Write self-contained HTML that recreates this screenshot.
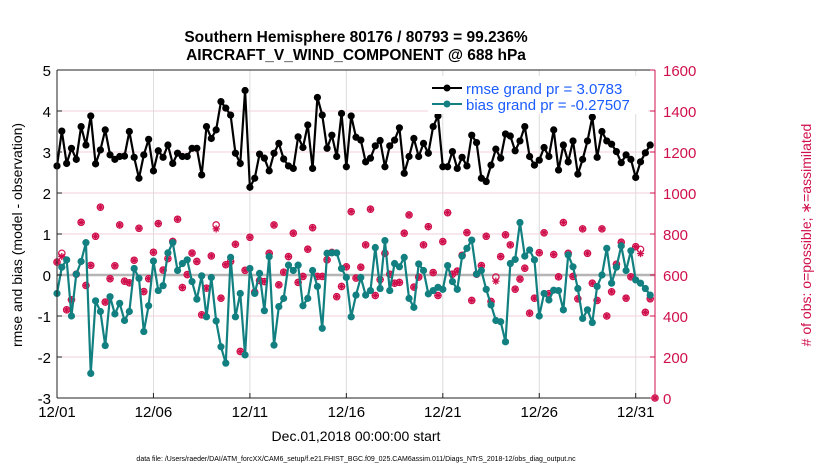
<!DOCTYPE html>
<html><head><meta charset="utf-8"><style>
body{margin:0;background:#fff;font-family:"Liberation Sans",sans-serif}
svg text{font-family:"Liberation Sans",sans-serif}
</style></head><body>
<svg id="c" width="830" height="470" xmlns="http://www.w3.org/2000/svg">
<rect width="830" height="470" fill="#fff"/>
<text x="356" y="42" text-anchor="middle" font-size="15.5" font-weight="bold">Southern Hemisphere 80176 / 80793 = 99.236%</text>
<text x="356" y="60" text-anchor="middle" font-size="15.5" font-weight="bold">AIRCRAFT_V_WIND_COMPONENT @ 688 hPa</text>
<g id="grid"></g><g id="marks"></g><g id="axes"></g>
<text transform="translate(22,235) rotate(-90)" text-anchor="middle" font-size="14">rmse and bias (model - observation)</text>
<text transform="translate(811,235) rotate(-90)" text-anchor="middle" font-size="14" fill="#d0104c"># of obs: o=possible; ∗=assimilated</text>
<text x="356" y="441" text-anchor="middle" font-size="14">Dec.01,2018 00:00:00 start</text>
<text x="356" y="461" text-anchor="middle" font-size="7">data file: /Users/raeder/DAI/ATM_forcXX/CAM6_setup/f.e21.FHIST_BGC.f09_025.CAM6assim.011/Diags_NTrS_2018-12/obs_diag_output.nc</text>
<g>
<rect x="428" y="76" width="220" height="38" fill="#fff"/>
<line x1="432" y1="88" x2="462" y2="88" stroke="#000" stroke-width="2"/><circle cx="447" cy="88" r="3.5" fill="#000"/>
<text x="466" y="94" font-size="15" fill="#1a5cff">rmse grand pr = 3.0783</text>
<line x1="432" y1="104" x2="462" y2="104" stroke="#128080" stroke-width="2"/><circle cx="447" cy="104" r="3.5" fill="#128080"/>
<text x="466" y="110" font-size="15" fill="#1a5cff">bias grand pr = -0.27507</text>
</g>
</svg>
<script>
const xTickLabels=["12/01","12/06","12/11","12/16","12/21","12/26","12/31"];
const xTickDays=[0,5,10,15,20,25,30];
const leftTicks=[-3,-2,-1,0,1,2,3,4,5];
const rightTicks=[0,200,400,600,800,1000,1200,1400,1600];
const rmse=[2.66,3.51,2.72,3.09,2.82,3.62,3.17,3.88,2.71,3.05,3.54,2.93,2.82,2.89,2.90,3.50,2.87,2.36,2.93,3.31,2.54,3.03,2.87,3.17,2.72,2.97,2.89,2.89,3.09,3.09,2.44,3.62,3.33,3.54,4.23,4.07,3.90,2.97,2.72,4.50,2.14,2.36,2.95,2.85,2.54,2.97,3.21,2.83,2.66,2.60,3.37,3.11,3.66,2.60,4.33,3.90,3.09,3.41,2.89,3.94,2.64,3.88,3.36,3.29,2.76,2.85,3.15,3.28,2.64,3.15,3.29,3.59,2.48,2.89,3.33,2.89,3.21,2.97,3.62,3.88,2.64,2.64,3.01,2.60,2.87,2.66,3.41,3.23,2.36,2.28,2.68,3.07,2.85,3.44,3.39,3.03,3.27,3.62,2.89,2.68,2.80,3.11,2.89,3.54,2.56,3.17,2.76,3.27,2.46,2.82,3.27,3.85,2.87,3.50,3.27,3.19,3.01,2.74,2.93,2.82,2.38,2.76,2.98,3.17];
const bias=[-0.45,0.19,0.37,-1.00,0.02,0.33,0.79,-2.40,-0.63,-0.89,-1.72,-0.53,-0.95,-0.69,-1.11,-0.89,0.16,-0.08,-1.38,-0.75,0.34,-0.38,-0.26,0.54,0.79,0.11,0.28,0.37,-0.16,-0.59,-0.02,-1.02,-0.06,-1.12,-1.75,-2.15,0.43,-1.02,-0.45,-1.95,0.16,-0.45,0.04,-0.87,0.45,-1.71,-0.77,-0.57,0.24,0.11,0.24,-0.75,-0.57,0.11,-0.28,-1.30,0.53,0.54,0.54,0.16,-0.06,-1.02,-0.49,-0.06,-0.49,-0.38,0.67,-0.33,0.84,-0.38,0.28,0.20,0.43,-0.57,-0.79,0.27,0.11,-0.46,-0.38,-0.30,-0.35,0.23,-0.16,-0.35,0.46,0.65,0.85,0.02,0.11,-0.35,-0.73,-1.11,-1.14,-1.63,0.28,0.38,1.28,0.46,0.61,0.37,-1.00,-0.45,-0.61,-0.37,-0.38,-0.85,0.49,0.20,-0.33,-1.06,-0.85,-1.16,-0.28,0.00,0.65,-0.20,0.19,0.71,0.11,0.59,-0.12,-0.20,-0.33,-0.49];
const possible=[663,706,430,479,604,857,549,647,789,931,468,582,645,844,570,562,672,828,519,582,711,851,624,680,764,872,539,602,707,666,406,536,693,844,487,650,666,750,227,623,784,516,573,568,706,844,552,614,690,804,564,593,726,831,593,593,674,710,494,544,640,909,585,638,747,921,500,578,706,604,560,564,804,893,541,590,747,836,612,500,763,904,604,619,696,807,476,604,646,789,471,590,690,796,747,531,580,633,414,487,709,806,509,700,591,856,706,593,484,825,706,560,476,825,400,518,653,760,487,591,738,725,418,484,0];
const assimilated=[663,690,430,479,604,857,549,647,789,931,468,582,645,844,570,562,672,828,519,582,711,851,624,680,764,872,539,602,707,666,406,536,693,825,487,650,666,750,227,623,784,516,573,568,706,844,552,614,690,804,564,593,726,831,593,593,674,710,494,544,640,909,585,638,747,921,500,578,706,604,560,564,804,893,541,590,747,836,612,500,763,904,604,619,696,807,476,604,646,789,471,570,690,796,747,531,580,633,414,487,709,806,509,700,591,856,706,593,484,825,706,560,476,825,400,518,653,760,487,591,738,705,418,484,0];
const X0=57,X1=655,Y0=398,Y1=70,DAYS=31,STEP=0.25;
const xs=d=>X0+(d/DAYS)*(X1-X0);
const yl=v=>Y0-(v+3)/8*(Y0-Y1);
const yr=v=>Y0-v/1600*(Y0-Y1);
const NS="http://www.w3.org/2000/svg";
function mk(p,t,a){const e=document.createElementNS(NS,t);for(const k in a)e.setAttribute(k,a[k]);p.appendChild(e);return e;}
const grid=document.getElementById('grid'),marks=document.getElementById('marks'),axes=document.getElementById('axes');
leftTicks.forEach(v=>{if(v>-3&&v<5&&v!==0){const l=mk(grid,'line',{x1:X0,x2:X1,y1:yl(v),y2:yl(v),stroke:'#f3cfdc','stroke-width':1});

}});
xTickDays.forEach(d=>{if(d>0){const l=mk(grid,'line',{x1:xs(d),x2:xs(d),y1:Y1,y2:Y0,stroke:'#dcdcdc','stroke-width':1});

}});
const z=mk(grid,'line',{x1:X0,x2:X1,y1:yl(0),y2:yl(0),stroke:'#b5b5b5','stroke-width':2.5});


possible.forEach((v,i)=>{const x=xs(i*STEP),y=yr(v);
const c=mk(marks,'circle',{cx:x,cy:y,r:3.2,fill:'none',stroke:'#d0104c','stroke-width':1.2});

});
assimilated.forEach((v,i)=>{const x=xs(i*STEP),y=yr(v),r=3.6;
const d=`M${x-r},${y}H${x+r}M${x},${y-r}V${y+r}M${x-r*0.7},${y-r*0.7}L${x+r*0.7},${y+r*0.7}M${x-r*0.7},${y+r*0.7}L${x+r*0.7},${y-r*0.7}`;
const p=mk(marks,'path',{d:d,stroke:'#d0104c','stroke-width':1.3,fill:'none'});

});
function series(arr,col,name){
const pts=arr.map((v,i)=>xs(i*STEP)+','+yl(v)).join(' ');
const pl=mk(marks,'polyline',{points:pts,fill:'none',stroke:col,'stroke-width':2.2});


arr.forEach((v,i)=>{const c=mk(marks,'circle',{cx:xs(i*STEP),cy:yl(v),r:3.6,fill:col});

});}
series(bias,'#128080','bias');
series(rmse,'#000','rmse');
const fr=mk(axes,'path',{d:`M${X0},${Y1}L${X1},${Y1}`,stroke:'#222','stroke-width':1,fill:'none'});


const la=mk(axes,'line',{x1:X0,x2:X0,y1:Y1,y2:Y0,stroke:'#222','stroke-width':1});


const ba=mk(axes,'line',{x1:X0,x2:X1,y1:Y0,y2:Y0,stroke:'#222','stroke-width':1});


const ra=mk(axes,'line',{x1:X1,x2:X1,y1:Y1,y2:Y0,stroke:'#d0104c','stroke-width':1});


leftTicks.forEach(v=>{mk(axes,'line',{x1:X0,x2:X0+5,y1:yl(v),y2:yl(v),stroke:'#222'});
const t=mk(axes,'text',{x:X0-6,y:yl(v)+6,'text-anchor':'end','font-size':15});t.textContent=v;

});
rightTicks.forEach(v=>{mk(axes,'line',{x1:X1-5,x2:X1,y1:yr(v),y2:yr(v),stroke:'#d0104c'});
const t=mk(axes,'text',{x:X1+8,y:yr(v)+6,'font-size':15,fill:'#d0104c'});t.textContent=v;

});
xTickDays.forEach((d,i)=>{mk(axes,'line',{x1:xs(d),x2:xs(d),y1:Y0,y2:Y0-5,stroke:'#222'});
const t=mk(axes,'text',{x:xs(d),y:417,'text-anchor':'middle','font-size':15});t.textContent=xTickLabels[i];

});
</script>
</body></html>
